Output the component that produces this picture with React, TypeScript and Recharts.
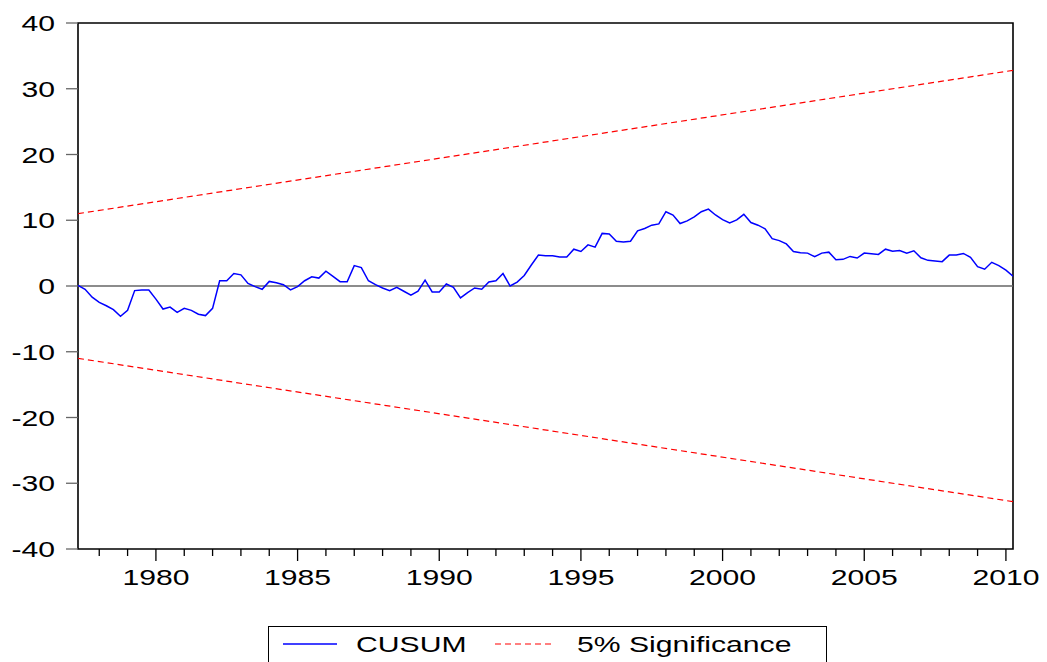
import {
  LineChart,
  Line,
  XAxis,
  YAxis,
  ReferenceLine,
  ReferenceArea,
  Legend,
} from 'recharts';

// quarterly observations, first one is 1977Q2
const START_YEAR = 1977.25;

const cusum = [
  0.1, -0.5, -1.7, -2.5, -3.0, -3.6, -4.6, -3.7, -0.7, -0.6,
  -0.6, -2.0, -3.5, -3.2, -4.0, -3.4, -3.7, -4.3, -4.5, -3.4,
  0.8, 0.8, 1.9, 1.7, 0.4, -0.1, -0.5, 0.7, 0.5, 0.2,
  -0.6, -0.1, 0.8, 1.4, 1.2, 2.25, 1.45, 0.65, 0.65, 3.1,
  2.8, 0.8, 0.2, -0.3, -0.7, -0.2, -0.8, -1.4, -0.8, 0.9,
  -0.9, -0.9, 0.3, -0.2, -1.8, -1.0, -0.3, -0.5, 0.6, 0.8,
  1.9, 0.0, 0.6, 1.6, 3.2, 4.7, 4.6, 4.6, 4.4, 4.4,
  5.6, 5.25, 6.25, 5.9, 8.0, 7.9, 6.8, 6.7, 6.8, 8.4,
  8.75, 9.25, 9.45, 11.3, 10.8, 9.5, 9.9, 10.5, 11.3, 11.7,
  10.8, 10.1, 9.6, 10.05, 10.9, 9.65, 9.25, 8.7, 7.2, 6.9,
  6.4, 5.25, 5.05, 5.0, 4.45, 5.0, 5.15, 4.0, 4.05, 4.5,
  4.25, 5.0, 4.9, 4.8, 5.6, 5.3, 5.4, 5.0, 5.35, 4.3,
  3.9, 3.8, 3.7, 4.7, 4.7, 4.95, 4.35, 2.95, 2.55, 3.6,
  3.1, 2.4, 1.5,
];

// 5% significance bounds at first and last observation
const boundYears = [1977.25, 2010.25];
const upperBound = [11.0, 32.8];
const lowerBound = [-11.0, -32.8];

const yTicks = [-40, -30, -20, -10, 0, 10, 20, 30, 40];
const yearTicks = [
  1978, 1979, 1980, 1981, 1982, 1983, 1984, 1985, 1986, 1987, 1988,
  1989, 1990, 1991, 1992, 1993, 1994, 1995, 1996, 1997, 1998, 1999,
  2000, 2001, 2002, 2003, 2004, 2005, 2006, 2007, 2008, 2009, 2010,
];

const chartData = cusum.map((v, i) => ({ year: START_YEAR + i / 4, cusum: v }));
const boundData = boundYears.map((yr, i) => ({
  year: yr,
  upper: upperBound[i],
  lower: lowerBound[i],
}));

const FONT = '"Liberation Sans", Arial, sans-serif';
const STRETCH = 1.37;

const YearTick = (props: any) => {
  const { x, y, payload } = props;
  const yr = payload.value;
  const major = yr % 5 === 0;
  return (
    <g>
      <line x1={x} y1={y} x2={x} y2={y + (major ? 12 : 7)} stroke="#000" strokeWidth={1.3} />
      {major && (
        <g transform={`translate(${x},${y + 36}) scale(${STRETCH},1)`}>
          <text x={0} y={0} textAnchor="middle" fontSize={22} fontFamily={FONT} fill="#000">
            {yr}
          </text>
        </g>
      )}
    </g>
  );
};

const ValueTick = (props: any) => {
  const { x, y, payload } = props;
  return (
    <g transform={`translate(${x},${y}) scale(${STRETCH},1)`}>
      <text x={0} y={0} dy={8} textAnchor="end" fontSize={22} fontFamily={FONT} fill="#000">
        {payload.value}
      </text>
    </g>
  );
};

const labelStyle = {
  position: 'absolute' as const,
  top: 0,
  lineHeight: '35px',
  fontSize: 22,
  fontFamily: FONT,
  color: '#000',
  transform: `scaleX(${STRETCH})`,
  transformOrigin: 'left center',
  whiteSpace: 'nowrap' as const,
};

const renderLegend = () => (
  <div style={{ height: 49, paddingTop: 13, boxSizing: 'border-box' }}>
    <div
      style={{
        position: 'relative',
        marginLeft: 268,
        width: 557,
        height: 35,
        border: '1px solid #000',
        borderBottom: 'none',
        background: '#fff',
        boxSizing: 'content-box',
      }}
    >
      <svg style={{ position: 'absolute', left: 14, top: 0 }} width={56} height={35}>
        <line x1={0} y1={17} x2={54} y2={17} stroke="#0000ff" strokeWidth={1.5} />
      </svg>
      <span style={{ ...labelStyle, left: 87 }}>CUSUM</span>
      <svg style={{ position: 'absolute', left: 226, top: 0 }} width={62} height={35}>
        <line x1={0} y1={17} x2={60} y2={17} stroke="#ff0000" strokeWidth={1.2} strokeDasharray="6 4" />
      </svg>
      <span style={{ ...labelStyle, left: 308 }}>5% Significance</span>
    </div>
  </div>
);

export default function App() {
  return (
    <div style={{ position: 'absolute', left: 0, top: 0, background: '#fff' }}>
      <LineChart
        width={1047}
        height={662}
        data={chartData}
        margin={{ top: 23, right: 34, bottom: 0, left: 0 }}
      >
        <XAxis
          dataKey="year"
          type="number"
          domain={[1977.25, 2010.25]}
          ticks={yearTicks}
          interval={0}
          allowDataOverflow
          height={64}
          tickSize={0}
          tickMargin={0}
          tickLine={false}
          axisLine={false}
          tick={<YearTick />}
        />
        <YAxis
          type="number"
          domain={[-40, 40]}
          ticks={yTicks}
          interval={0}
          width={78}
          tickSize={12}
          tickMargin={11}
          tickLine={{ stroke: '#666', strokeWidth: 1.3 }}
          axisLine={false}
          tick={<ValueTick />}
        />
        <ReferenceLine y={0} stroke="#666" strokeWidth={1.5} />
        <Line
          data={boundData}
          dataKey="upper"
          name="5% Significance"
          stroke="#ff0000"
          strokeWidth={1.2}
          strokeDasharray="6 4"
          dot={false}
          activeDot={false}
          isAnimationActive={false}
          legendType="none"
        />
        <Line
          data={boundData}
          dataKey="lower"
          name="lower"
          stroke="#ff0000"
          strokeWidth={1.2}
          strokeDasharray="6 4"
          dot={false}
          activeDot={false}
          isAnimationActive={false}
          legendType="none"
        />
        <Line
          dataKey="cusum"
          name="CUSUM"
          stroke="#0000ff"
          strokeWidth={1.5}
          dot={false}
          activeDot={false}
          isAnimationActive={false}
        />
        <ReferenceArea
          x1={1977.25}
          x2={2010.25}
          y1={-40}
          y2={40}
          fill="none"
          fillOpacity={0}
          stroke="#000"
          strokeWidth={1.6}
        />
        <Legend verticalAlign="bottom" content={renderLegend} />
      </LineChart>
    </div>
  );
}
